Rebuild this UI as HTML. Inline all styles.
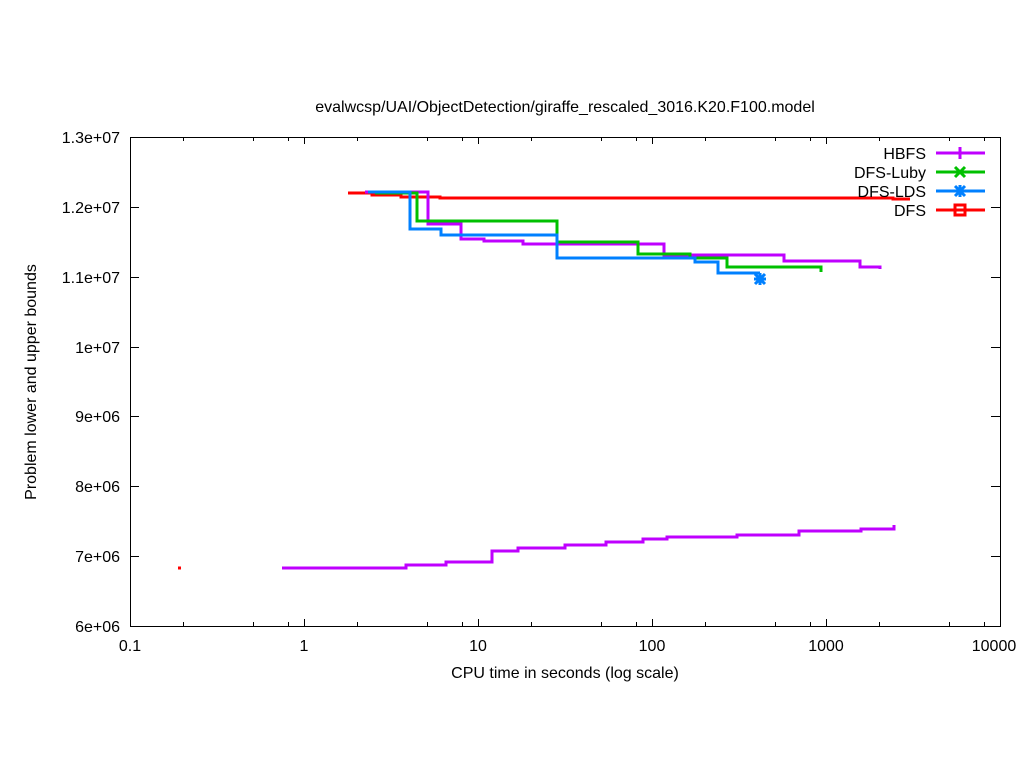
<!DOCTYPE html>
<html><head><style>body{margin:0;background:#fff}svg{display:block}text{font-family:"Liberation Sans",sans-serif;font-size:16px;fill:#000}</style></head>
<body>
<svg width="1024" height="768" viewBox="0 0 1024 768">
<rect x="130.5" y="137.5" width="870" height="489" fill="none" stroke="#000" stroke-width="1"/>
<g stroke="#000" stroke-width="1">
<path d="M130 556.5h9M991 556.5h9M130 486.5h9M991 486.5h9M130 416.5h9M991 416.5h9M130 347.5h9M991 347.5h9M130 277.5h9M991 277.5h9M130 207.5h9M991 207.5h9"/>
<path d="M304.5 626v-7M304.5 137v7M478.5 626v-7M478.5 137v7M652.5 626v-7M652.5 137v7M826.5 626v-7M826.5 137v7"/>
<path d="M183.5 626v-4M253.5 626v-4M288.5 626v-4M357.5 626v-4M427.5 626v-4M462.5 626v-4M531.5 626v-4M601.5 626v-4M636.5 626v-4M705.5 626v-4M775.5 626v-4M810.5 626v-4M879.5 626v-4M949.5 626v-4M984.5 626v-4"/>
<path d="M183.5 137v4M253.5 137v4M288.5 137v4M357.5 137v4M427.5 137v4M462.5 137v4M531.5 137v4M601.5 137v4M636.5 137v4M705.5 137v4M775.5 137v4M810.5 137v4M879.5 137v4M949.5 137v4M984.5 137v4"/>
</g>
<g text-anchor="end">
<text x="120" y="632">6e+06</text><text x="120" y="562">7e+06</text><text x="120" y="492">8e+06</text><text x="120" y="422">9e+06</text><text x="120" y="353">1e+07</text><text x="120" y="283">1.1e+07</text><text x="120" y="213">1.2e+07</text><text x="120" y="143">1.3e+07</text>
</g>
<g text-anchor="middle">
<text x="130" y="651">0.1</text><text x="304" y="651">1</text><text x="478" y="651">10</text><text x="652" y="651">100</text><text x="826" y="651">1000</text><text x="994" y="651">10000</text>
<text x="565" y="678">CPU time in seconds (log scale)</text>
<text x="565" y="112">evalwcsp/UAI/ObjectDetection/giraffe_rescaled_3016.K20.F100.model</text>
<text transform="translate(36,382) rotate(-90)">Problem lower and upper bounds</text>
</g>
<g fill="none" stroke-width="3">
<path stroke="#ff0000" d="M348 193H372V195H401V197H440V198H893V199H910"/>
<path stroke="#ff0000" d="M178 568h3"/>
<path stroke="#bf00ff" d="M365 192H428V224H461V239H484V241H523V244H664V255H784V261H860V267H880V269"/>
<path stroke="#bf00ff" d="M282 568H406V565H446V562H492V551H518V548H565V545H606V542H643V539H667V537H737V535H799V531H861V529H894V525"/>
<path stroke="#00c000" d="M375 193H417V221H557V242H638V254H690V258H727V267H821V272"/>
<path stroke="#0080ff" d="M368 192H410V229H441V235H557V258H695V262H718V273H760"/>
</g>
<g stroke="#0080ff" stroke-width="3"><path d="M754 279h12M760 273v12M755 274l10 10M765 274l-10 10"/></g>
<g text-anchor="end">
<text x="926" y="159">HBFS</text><text x="926" y="178">DFS-Luby</text><text x="926" y="197">DFS-LDS</text><text x="926" y="216">DFS</text>
</g>
<g stroke-width="3" fill="none">
<path stroke="#bf00ff" d="M936 153h49M960 147v12"/>
<path stroke="#00c000" d="M936 172h49M955 167l10 10M965 167l-10 10"/>
<path stroke="#0080ff" d="M936 191h49M954 191h12M960 185v12M955 186l10 10M965 186l-10 10"/>
<path stroke="#ff0000" d="M936 210h49"/><rect x="955" y="205" width="10" height="10" stroke="#ff0000"/>
</g>
</svg>
</body></html>
